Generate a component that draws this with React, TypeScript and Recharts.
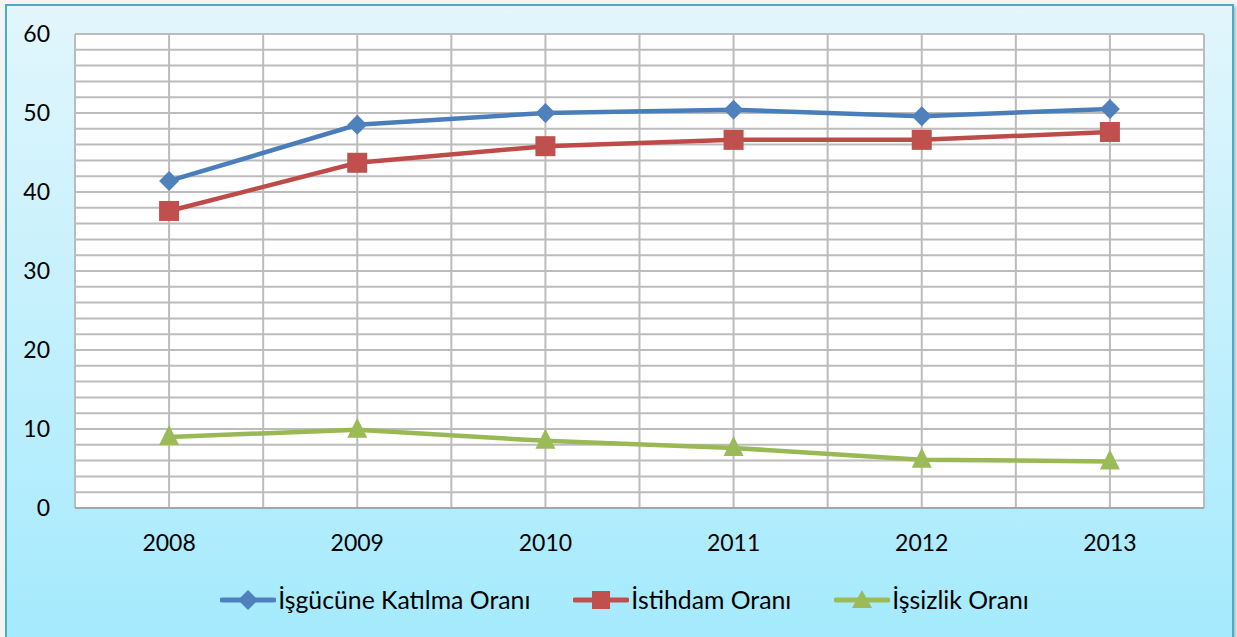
import { CartesianGrid, Legend, Line, LineChart, XAxis, YAxis } from "recharts";

const years = ["2008", "2009", "2010", "2011", "2012", "2013"];
const katilma = [41.4, 48.5, 50.0, 50.4, 49.6, 50.5];
const istihdam = [37.6, 43.7, 45.8, 46.6, 46.6, 47.6];
const issizlik = [9.0, 9.9, 8.5, 7.6, 6.1, 5.9];
const xTicks = [-0.5, 0, 0.5, 1, 1.5, 2, 2.5, 3, 3.5, 4, 4.5, 5, 5.5];
const yTicks = [
	0, 2, 4, 6, 8, 10, 12, 14, 16, 18, 20, 22, 24, 26, 28, 30, 32, 34, 36, 38,
	40, 42, 44, 46, 48, 50, 52, 54, 56, 58, 60,
];

const data = years.map((year, i) => ({
	x: i,
	year,
	katilma: katilma[i],
	istihdam: istihdam[i],
	issizlik: issizlik[i],
}));

const FONT = "Lato, 'Open Sans', sans-serif";
const BLUE = "#4a7ebb";
const RED = "#be4b48";
const GREEN = "#98b954";

function Diamond(props: any) {
	const { cx, cy, index } = props;
	return (
		<path
			key={"d" + index}
			d={`M${cx},${cy - 10} L${cx + 10},${cy} L${cx},${cy + 10} L${cx - 10},${cy} Z`}
			fill="#4f81bd"
		/>
	);
}

function Square(props: any) {
	const { cx, cy, index } = props;
	return <rect key={"s" + index} x={cx - 10} y={cy - 10} width={20} height={20} fill="#c0504d" />;
}

function Triangle(props: any) {
	const { cx, cy, index } = props;
	return (
		<path
			key={"t" + index}
			d={`M${cx},${cy - 12} L${cx + 10},${cy + 8} L${cx - 10},${cy + 8} Z`}
			fill="#9bbb59"
		/>
	);
}

function LegendIcon({ color, kind }: { color: string; kind: string }) {
	return (
		<svg width={56} height={24} style={{ verticalAlign: "middle" }}>
			<line x1={2} y1={12} x2={54} y2={12} stroke={color} strokeWidth={5} strokeLinecap="round" />
			{kind === "diamond" && <path d="M28,2 L38,12 L28,22 L18,12 Z" fill={color} />}
			{kind === "square" && <rect x={19} y={3} width={18} height={18} fill={color} />}
			{kind === "triangle" && <path d="M28,2 L38,20 L18,20 Z" fill={color} />}
		</svg>
	);
}

const legendItems = [
	{ label: "İşgücüne Katılma Oranı", color: "#4f81bd", kind: "diamond" },
	{ label: "İstihdam Oranı", color: "#c0504d", kind: "square" },
	{ label: "İşsizlik Oranı", color: "#9bbb59", kind: "triangle" },
];

function LegendContent() {
	return (
		<div
			style={{
				height: 40,
				lineHeight: "40px",
				display: "flex",
				justifyContent: "center",
				alignItems: "center",
				gap: 43,
				fontFamily: FONT,
				fontSize: 24.8,
				color: "#000",
				paddingLeft: 38,
			}}
		>
			{legendItems.map((it) => (
				<div key={it.label} style={{ display: "flex", alignItems: "center" }}>
					<LegendIcon color={it.color} kind={it.kind} />
					<span style={{ marginLeft: 2 }}>{it.label}</span>
				</div>
			))}
		</div>
	);
}

export default function App() {
	return (
		<div
			style={{
				position: "absolute",
				left: 0,
				top: 0,
				width: 1237,
				height: 637,
				overflow: "hidden",
				background: "#f4f4f4",
			}}
		>
			<div
				style={{
					position: "absolute",
					left: 5,
					top: 4,
					width: 1225,
					height: 640,
					border: "2px solid #4bacc6",
					background: "linear-gradient(to bottom, #e2f6fc 0%, #a4eafd 100%)",
					boxShadow: "2px 2px 3px rgba(0,0,0,0.25)",
				}}
			>
				<LineChart
					width={1225}
					height={631}
					data={data}
					margin={{ top: 28, right: 28, bottom: 17, left: 0 }}
				>
					<CartesianGrid stroke="#bcbcbc" strokeWidth={2} fill="#ffffff" />
					<XAxis
						type="number"
						dataKey="x"
						domain={[-0.5, 5.5]}
						ticks={xTicks}
						interval={0}
						tickFormatter={(v: number) => (Number.isInteger(v) ? years[v] : "")}
						height={72}
						tickLine={false}
						tickSize={0}
						tickMargin={27}
						axisLine={{ stroke: "#a6a6a6", strokeWidth: 2 }}
						tick={{ fill: "#000", fontFamily: FONT, fontSize: 23 }}
					/>
					<YAxis
						domain={[0, 60]}
						ticks={yTicks}
						interval={0}
						tickFormatter={(v: number) => (v % 10 === 0 ? String(v) : "")}
						width={68}
						tickLine={false}
						tickSize={0}
						tickMargin={25}
						axisLine={false}
						tick={{ fill: "#000", fontFamily: FONT, fontSize: 23 }}
					/>
					<Legend verticalAlign="bottom" content={<LegendContent />} />
					<Line
						dataKey="katilma"
						name="İşgücüne Katılma Oranı"
						stroke={BLUE}
						strokeWidth={4.5}
						dot={Diamond}
						isAnimationActive={false}
					/>
					<Line
						dataKey="istihdam"
						name="İstihdam Oranı"
						stroke={RED}
						strokeWidth={4.5}
						dot={Square}
						isAnimationActive={false}
					/>
					<Line
						dataKey="issizlik"
						name="İşsizlik Oranı"
						stroke={GREEN}
						strokeWidth={4.5}
						dot={Triangle}
						isAnimationActive={false}
					/>
				</LineChart>
			</div>
		</div>
	);
}
